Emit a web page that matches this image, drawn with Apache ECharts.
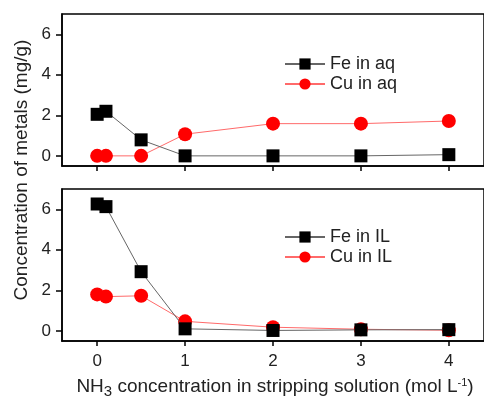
<!DOCTYPE html>
<html>
<head>
<meta charset="utf-8">
<script src="https://cdn.jsdelivr.net/npm/echarts@6/dist/echarts.min.js"></script>
<style>
html,body{margin:0;padding:0;background:#fff;}
#chart{width:484px;height:398px;}
</style>
</head>
<body>
<div id="chart"></div>
<script>
// NH3 concentration in stripping solution (mol/L)
const nh3 = [0, 0.1, 0.5, 1, 2, 3, 4];
// Aqueous phase (mg/g)
const feAq = [2.05, 2.2, 0.79, 0, 0, 0, 0.06];
const cuAq = [0, 0, 0, 1.07, 1.59, 1.59, 1.72];
// Ionic liquid phase (mg/g)
const feIL = [6.26, 6.13, 2.92, 0.1, 0.02, 0.05, 0.06];
const cuIL = [1.8, 1.69, 1.73, 0.47, 0.18, 0.08, 0.03];
// Tick labels
const xTicks = [0, 1, 2, 3, 4];
const yTicks = [0, 2, 4, 6];

const FONT = 'Liberation Sans, Arial, sans-serif';
const pair = (xs, ys) => xs.map((x, i) => [x, ys[i]]);

function xAxisCfg(gridIndex, showLabels) {
  return {
    type: 'value', gridIndex, min: -0.4, max: 4.4,
    axisLine: { show: true, onZero: false, lineStyle: { color: '#000', width: 1.5 } },
    axisTick: { show: true, inside: false, length: 5, customValues: xTicks, lineStyle: { color: '#000', width: 1.5 } },
    axisLabel: { show: showLabels, customValues: xTicks, color: '#222', fontSize: 17, fontFamily: FONT, margin: 12 },
    splitLine: { show: false }
  };
}
function yAxisCfg(gridIndex) {
  return {
    type: 'value', gridIndex, min: -0.5, max: 7,
    axisLine: { show: true, onZero: false, lineStyle: { color: '#000', width: 1.5 } },
    axisTick: { show: true, inside: false, length: 6, customValues: yTicks, lineStyle: { color: '#000', width: 1.5 } },
    axisLabel: { customValues: yTicks, color: '#222', fontSize: 17, fontFamily: FONT, margin: 11 },
    splitLine: { show: false }
  };
}
function feSeries(name, xi, data) {
  return {
    name, type: 'line', xAxisIndex: xi, yAxisIndex: xi, data,
    symbol: 'rect', symbolSize: 13,
    itemStyle: { color: '#000' },
    lineStyle: { color: '#666', width: 1 },
    z: 3
  };
}
function cuSeries(name, xi, data) {
  return {
    name, type: 'line', xAxisIndex: xi, yAxisIndex: xi, data,
    symbol: 'circle', symbolSize: 14,
    itemStyle: { color: '#ff0000' },
    lineStyle: { color: '#ff6a6a', width: 1 },
    z: 2
  };
}
function legendCfg(top, names) {
  return {
    left: 279, top, orient: 'vertical', itemGap: 2,
    itemWidth: 40, itemHeight: 14,
    textStyle: { color: '#222', fontSize: 18, fontFamily: FONT },
    data: names
  };
}

const chart = echarts.init(document.getElementById('chart'), null, { renderer: 'canvas' });
chart.setOption({
  animation: false,
  backgroundColor: '#fff',
  grid: [
    { left: 62, top: 14, width: 426, height: 152, show: true, borderColor: '#000', borderWidth: 1.5 },
    { left: 62, top: 189, width: 426, height: 152, show: true, borderColor: '#000', borderWidth: 1.5 }
  ],
  xAxis: [xAxisCfg(0, false), xAxisCfg(1, true)],
  yAxis: [yAxisCfg(0), yAxisCfg(1)],
  legend: [
    legendCfg(50, ['Fe in aq', 'Cu in aq']),
    legendCfg(223, ['Fe in IL', 'Cu in IL'])
  ],
  series: [
    feSeries('Fe in aq', 0, pair(nh3, feAq)),
    cuSeries('Cu in aq', 0, pair(nh3, cuAq)),
    feSeries('Fe in IL', 1, pair(nh3, feIL)),
    cuSeries('Cu in IL', 1, pair(nh3, cuIL))
  ],
  graphic: [
    {
      type: 'text', x: 22, y: 170, rotation: Math.PI / 2, originX: 0, originY: 0,
      style: {
        text: 'Concentration of metals (mg/g)', fill: '#222',
        font: '19px ' + FONT, align: 'center', verticalAlign: 'middle'
      }
    },
    {
      type: 'text', x: 275, y: 387,
      style: {
        text: '{n|NH}{s|3}{n| concentration in stripping solution (mol L}{p|-1}{n|)}',
        align: 'center', verticalAlign: 'middle', fill: '#222',
        rich: {
          n: { fontSize: 19, fontFamily: FONT, fill: '#222' },
          s: { fontSize: 15, fontFamily: FONT, fill: '#222', padding: [9, 0, 0, 0] },
          p: { fontSize: 11, fontFamily: FONT, fill: '#222', padding: [0, 0, 9, 0] }
        }
      }
    }
  ]
});
</script>
</body>
</html>
